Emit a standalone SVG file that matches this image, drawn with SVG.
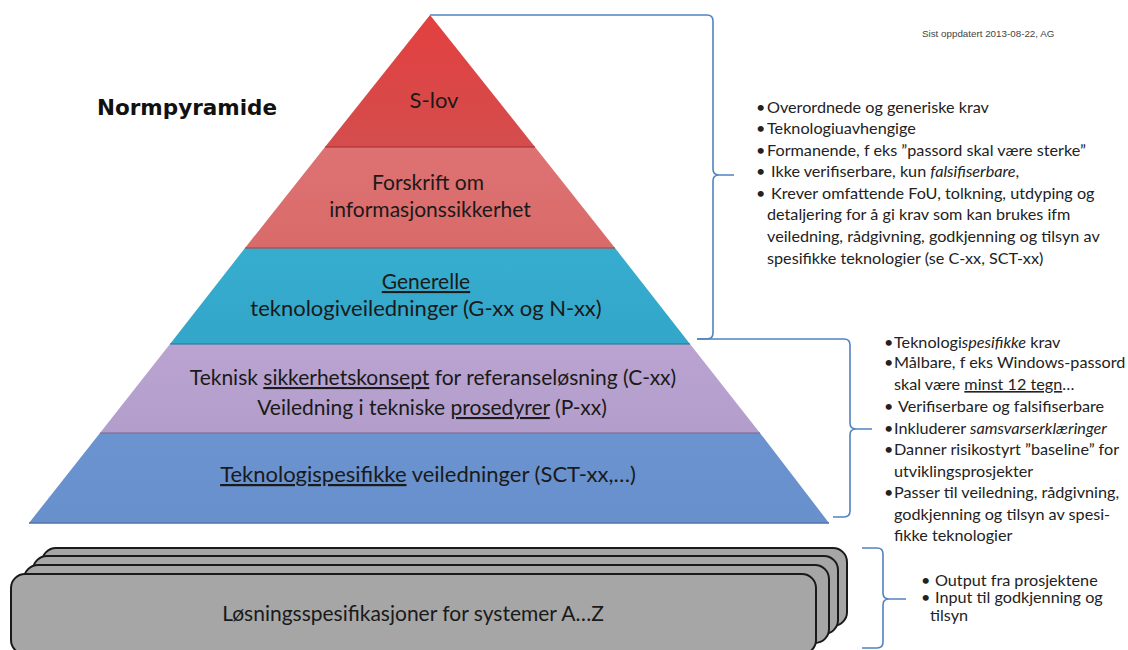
<svg xmlns="http://www.w3.org/2000/svg" width="1128" height="650" viewBox="0 0 1128 650">
  <defs>
    <linearGradient id="gRed" x1="0" y1="0" x2="0" y2="1">
      <stop offset="0" stop-color="#e2403f"/>
      <stop offset="1" stop-color="#d44d4d"/>
    </linearGradient>
    <linearGradient id="gSalmon" x1="0" y1="0" x2="0" y2="1">
      <stop offset="0" stop-color="#de7272"/>
      <stop offset="1" stop-color="#d96a6a"/>
    </linearGradient>
    <linearGradient id="gTeal" x1="0" y1="0" x2="0" y2="1">
      <stop offset="0" stop-color="#36adcf"/>
      <stop offset="1" stop-color="#33a6c9"/>
    </linearGradient>
    <linearGradient id="gLilac" x1="0" y1="0" x2="0" y2="1">
      <stop offset="0" stop-color="#baa3d0"/>
      <stop offset="1" stop-color="#b39ecb"/>
    </linearGradient>
    <linearGradient id="gBlue" x1="0" y1="0" x2="0" y2="1">
      <stop offset="0" stop-color="#6a93cf"/>
      <stop offset="1" stop-color="#6790cc"/>
    </linearGradient>
  </defs>
  <style>
    .lbl { font-family: Lato, "Open Sans", sans-serif; font-size: 22px; fill: #1a1a1a; text-anchor: middle; }
    .sm { font-size: 21px; }
    .note { font-family: Lato, "Open Sans", sans-serif; font-size: 16.2px; fill: #222; }
    .title { font-family: "DejaVu Sans", Verdana, sans-serif; font-weight: bold; font-size: 21.5px; fill: #111; }
    .stamp { font-family: "Liberation Sans", Arial, sans-serif; font-size: 9.8px; fill: #444; }
    .sep { stroke-width: 2; stroke-opacity: 0.55; }
    .brace { fill: none; stroke: #5083c0; stroke-width: 1.6; stroke-linejoin: round; }
    .stack { fill: #a6a6a6; stroke: #1a1a1a; stroke-width: 2; }
    .u { text-decoration: underline; }
    .i { font-style: italic; }
  </style>

  <rect width="1128" height="650" fill="#ffffff"/>

  <text class="title" x="97" y="115">Normpyramide</text>
  <text class="stamp" x="922" y="37">Sist oppdatert 2013-08-22, AG</text>

  <!-- pyramid layers: apex (430,15), base 30..828 at y=523 -->
  <g id="layer-slov">
    <polygon points="430,15 535,147 325,147" fill="url(#gRed)"/>
    <text class="lbl" x="434" y="108">S-lov</text>
  </g>
  <g id="layer-forskrift">
    <polygon points="325,147 535,147 615,248 245,248" fill="url(#gSalmon)"/>
    <line class="sep" x1="325" y1="147" x2="535" y2="147" stroke="#a83234"/>
    <text class="lbl sm" x="428" y="190">Forskrift om</text>
    <text class="lbl sm" x="430" y="217">informasjonssikkerhet</text>
  </g>
  <g id="layer-generelle">
    <polygon points="245,248 615,248 690,344 170,344" fill="url(#gTeal)"/>
    <line class="sep" x1="245" y1="248" x2="615" y2="248" stroke="#a84646"/>
    <text class="lbl sm" x="426" y="289"><tspan class="u">Generelle </tspan></text>
    <text class="lbl" x="426" y="316">teknologiveiledninger (G-xx og N-xx)</text>
  </g>
  <g id="layer-konsept">
    <polygon points="170,344 690,344 760,433 100,433" fill="url(#gLilac)"/>
    <line class="sep" x1="170" y1="344" x2="690" y2="344" stroke="#1f7d99"/>
    <text class="lbl sm" x="433" y="385">Teknisk <tspan class="u">sikkerhetskonsept</tspan>  for referanseløsning  (C-xx)</text>
    <text class="lbl sm" x="432" y="415">Veiledning  i tekniske <tspan class="u">prosedyrer</tspan> (P-xx)</text>
  </g>
  <g id="layer-sct">
    <polygon points="100,433 760,433 829,523 29,523" fill="url(#gBlue)"/>
    <line class="sep" x1="100" y1="433" x2="760" y2="433" stroke="#7e6a98"/>
    <line x1="29" y1="523" x2="829" y2="523" stroke="#4f74a8" stroke-width="1.5"/>
    <text class="lbl" x="428" y="482"><tspan class="u">Teknologispesifikke</tspan> veiledninger (SCT-xx,…)</text>
  </g>

  <!-- stacked solution specification sheets -->
  <g id="solution-stack">
    <rect class="stack" x="42" y="548" width="805" height="78" rx="14"/>
    <rect class="stack" x="33" y="556" width="805" height="78" rx="14"/>
    <rect class="stack" x="24" y="565" width="805" height="78" rx="14"/>
    <rect class="stack" x="11" y="574" width="805" height="80" rx="14"/>
    <text class="lbl sm" x="413" y="621">Løsningsspesifikasjoner  for systemer A…Z</text>
  </g>

  <!-- braces linking the pyramid levels to their notes -->
  <g id="connectors">
    <path class="brace" d="M430,15 H707 Q713,15 713,21 V169 Q713,175 719,175 H734 M719,175 Q713,175 713,181 V333 Q713,339 707,339 H697"/>
    <path class="brace" d="M697,339 H844 Q850,339 850,345 V423 Q850,429 856,429 H872 M856,429 Q850,429 850,435 V511 Q850,517 844,517 H833"/>
    <path class="brace" d="M862,548 H877 Q883,548 883,554 V593 Q883,599 889,599 H906 M889,599 Q883,599 883,605 V642 Q883,648 877,648 H862"/>
  </g>

  <g id="notes-general">
    <text class="note" y="113"><tspan x="756">•</tspan><tspan x="767">Overordnede  og generiske krav</tspan></text>
    <text class="note" y="134"><tspan x="756">•</tspan><tspan x="767">Teknologiuavhengige</tspan></text>
    <text class="note" y="156"><tspan x="756">•</tspan><tspan x="767">Formanende,  f eks ”passord skal være sterke”</tspan></text>
    <text class="note" y="177"><tspan x="756">•</tspan><tspan x="771">Ikke verifiserbare, kun <tspan class="i">falsifiserbare</tspan>,</tspan></text>
    <text class="note" y="199"><tspan x="756">•</tspan><tspan x="771">Krever omfattende FoU, tolkning, utdyping og</tspan></text>
    <text class="note" y="220" x="767">detaljering for å gi krav som kan brukes ifm</text>
    <text class="note" y="242" x="767">veiledning, rådgivning, godkjenning og tilsyn av</text>
    <text class="note" y="264" x="767">spesifikke teknologier (se C-xx, SCT-xx)</text>
  </g>

  <g id="notes-specific">
    <text class="note" y="348"><tspan x="884">•</tspan><tspan x="894">Teknologi<tspan class="i">spesifikke</tspan> krav</tspan></text>
    <text class="note" y="368"><tspan x="884">•</tspan><tspan x="894">Målbare, f eks Windows-passord</tspan></text>
    <text class="note" y="390" x="894">skal være <tspan class="u">minst 12 tegn</tspan>…</text>
    <text class="note" y="412"><tspan x="884">•</tspan><tspan x="898">Verifiserbare  og falsifiserbare</tspan></text>
    <text class="note" y="434"><tspan x="884">•</tspan><tspan x="894">Inkluderer  <tspan class="i">samsvarserklæringer</tspan></tspan></text>
    <text class="note" y="455"><tspan x="884">•</tspan><tspan x="894">Danner  risikostyrt ”baseline” for</tspan></text>
    <text class="note" y="477" x="894">utviklingsprosjekter</text>
    <text class="note" y="498"><tspan x="884">•</tspan><tspan x="894">Passer til veiledning,  rådgivning,</tspan></text>
    <text class="note" y="520" x="894">godkjenning  og tilsyn  av spesi-</text>
    <text class="note" y="541" x="894">fikke teknologier</text>
  </g>

  <g id="notes-solutions">
    <text class="note" y="586"><tspan x="921">•</tspan><tspan x="935">Output  fra prosjektene</tspan></text>
    <text class="note" y="603"><tspan x="921">•</tspan><tspan x="935">Input  til godkjenning  og</tspan></text>
    <text class="note" y="621" x="930">tilsyn</text>
  </g>
</svg>
